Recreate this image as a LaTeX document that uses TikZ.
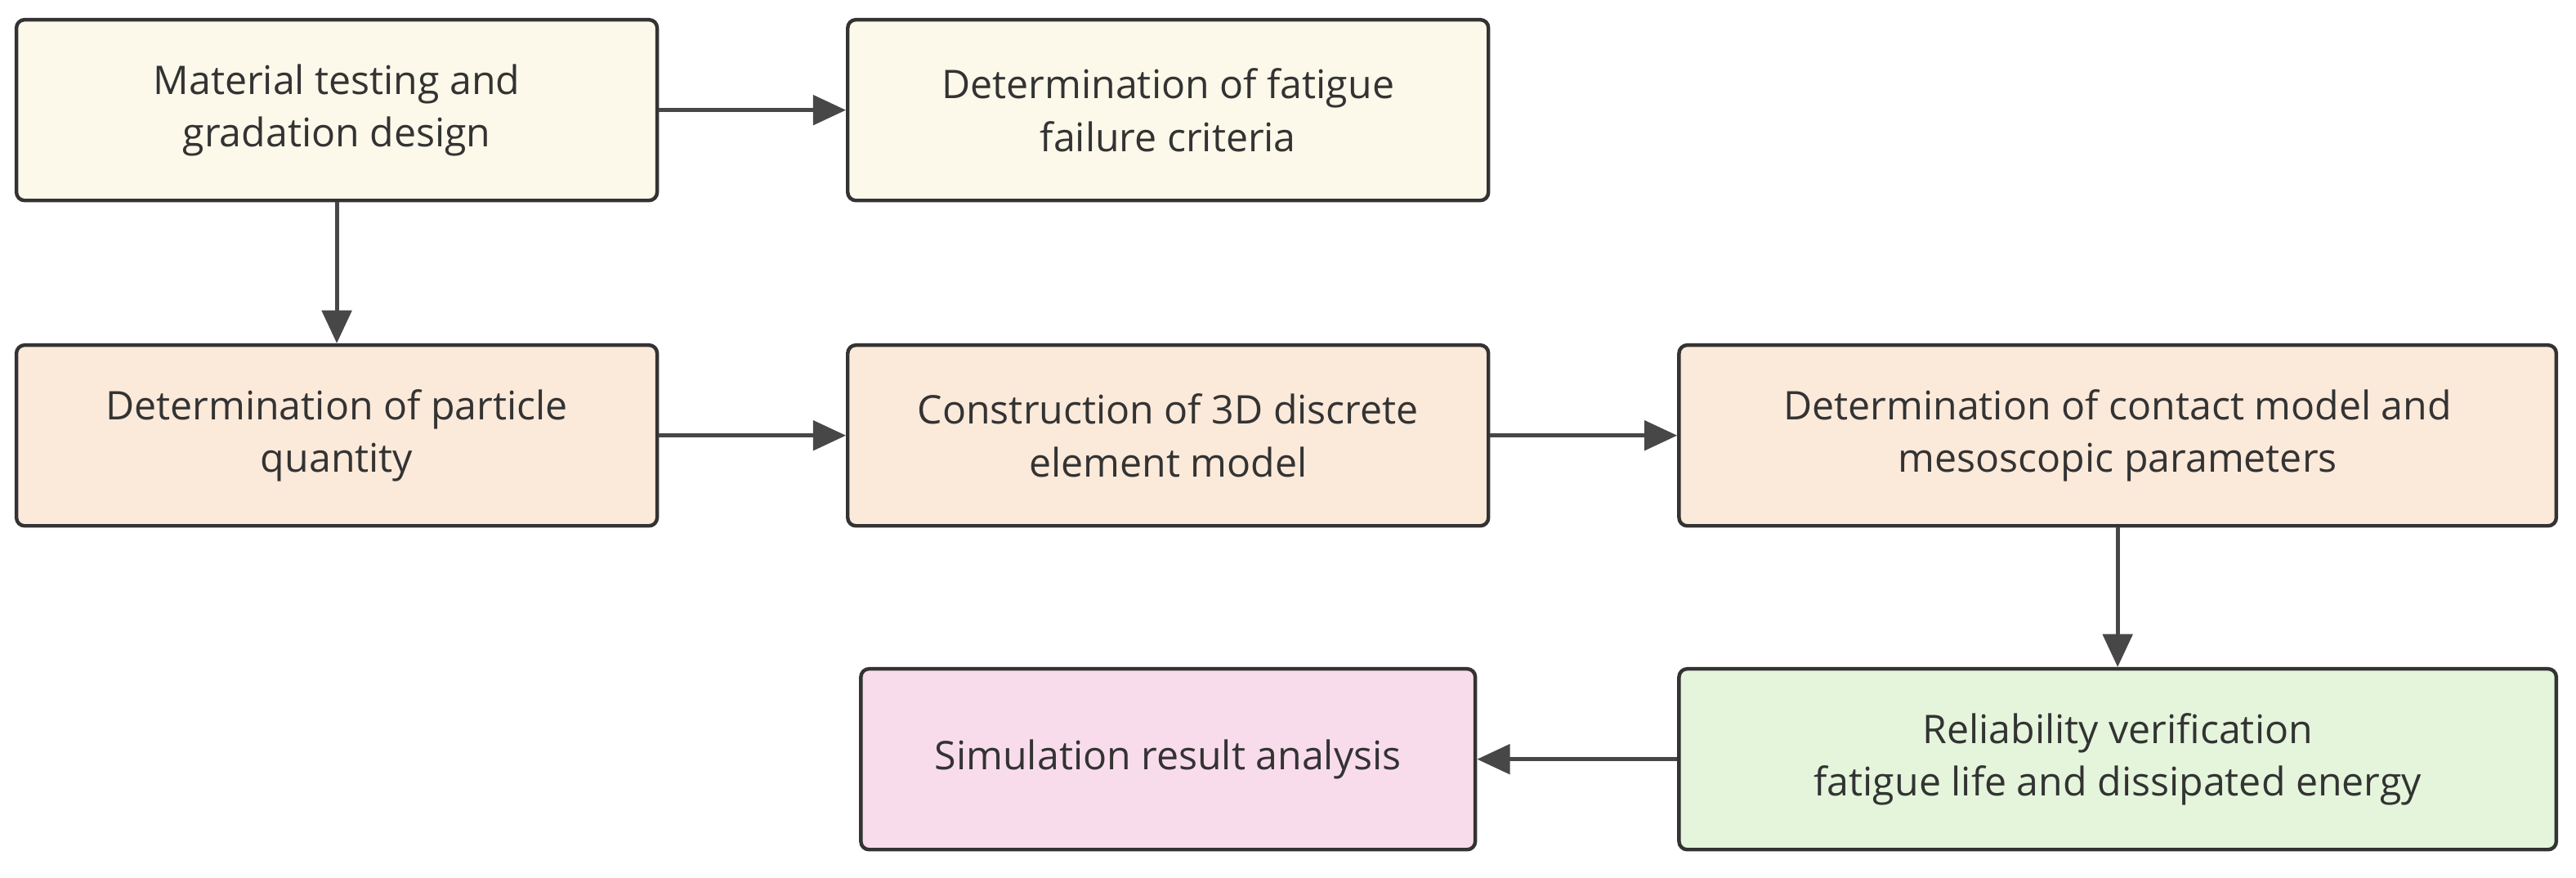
\documentclass[tikz,border=0pt]{standalone}
\usepackage{fontspec}
\setmainfont{Open Sans}
\usetikzlibrary{arrows.meta}
\definecolor{tx}{HTML}{333333}
\definecolor{fy}{HTML}{FCF8EA}
\definecolor{fp}{HTML}{FBE9DA}
\definecolor{fk}{HTML}{F9DCEB}
\definecolor{fg}{HTML}{E4F5DC}
\begin{document}
\begin{tikzpicture}[x=1pt,y=-1pt,
  box/.style={draw=tx,line width=2.2pt,rounded corners=5pt,align=center,text=tx,
    font=\fontsize{24}{32}\selectfont,inner sep=0pt},
  arr/.style={draw=tx!90,line width=2.4pt,-{Triangle[length=20pt,width=18pt]}}]
\useasboundingbox (0,0) rectangle (1568,534);
\node[box,fill=fy,minimum width=390pt,minimum height=110pt] (a) at (205,67) {Material testing and\\gradation design};
\node[box,fill=fy,minimum width=390pt,minimum height=110pt] (b) at (711,67) {Determination of fatigue\\failure criteria};
\node[box,fill=fp,minimum width=390pt,minimum height=110pt] (c) at (205,265) {Determination of particle\\quantity};
\node[box,fill=fp,minimum width=390pt,minimum height=110pt] (d) at (711,265) {Construction of 3D discrete\\element model};
\node[box,fill=fp,minimum width=534pt,minimum height=110pt] (e) at (1289,265) {Determination of contact model and\\mesoscopic parameters};
\node[box,fill=fk,minimum width=374pt,minimum height=110pt] (f) at (711,462) {Simulation result analysis};
\node[box,fill=fg,minimum width=534pt,minimum height=110pt] (g) at (1289,462) {Reliability verification\\fatigue life and dissipated energy};
\draw[arr] (a) -- (b);
\draw[arr] (a) -- (c);
\draw[arr] (c) -- (d);
\draw[arr] (d) -- (e);
\draw[arr] (e) -- (g);
\draw[arr] (g) -- (f);
\end{tikzpicture}
\end{document}
